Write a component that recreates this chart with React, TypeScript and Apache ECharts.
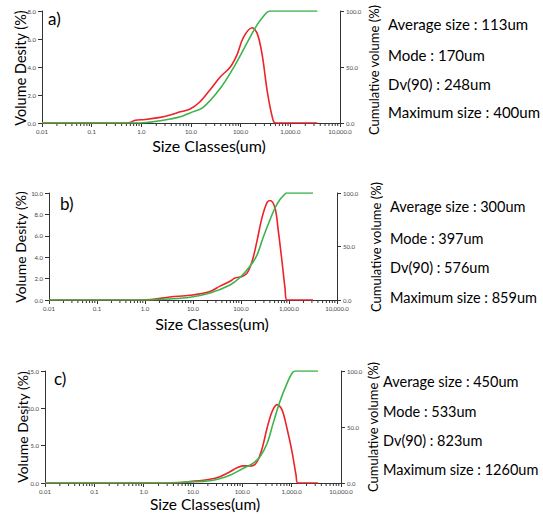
import React, { useEffect, useRef } from 'react';
import * as echarts from 'echarts';

// ---------- data ----------
const xTickValues = [0.01, 0.1, 1, 10, 100, 1000, 10000];
const xTickLabels = ['0.01', '0.1', '1.0', '10.0', '100.0', '1,000.0', '10,000.0'];

// panel a) volume density (%) vs size (um)
const densityA: [number, number][] = [
  [0.01, 0], [0.54, 0], [0.75, 0.2], [1.2, 0.25], [2.4, 0.4], [3.8, 0.57], [6.1, 0.8], [9.6, 1.0],
  [15, 1.5], [24, 2.35], [39, 3.3], [62, 4.0], [85, 4.9], [113, 6.1], [170, 6.8], [215, 6.4],
  [270, 4.9], [345, 2.2], [435, 0.4], [500, 0], [3500, 0],
];
const cumulativeA: [number, number][] = [
  [0.01, 0], [0.95, 0], [2.4, 2], [3.8, 3.5], [6.1, 5.5], [9.6, 9], [17.6, 14], [39, 31], [71, 49],
  [136, 72], [197, 85], [272, 94], [395, 100], [3500, 100],
];

// panel b)
const densityB: [number, number][] = [
  [0.01, 0], [0.8, 0], [1.5, 0.06], [3.3, 0.28], [8.7, 0.44], [22.6, 0.8], [36.5, 1.3], [59, 1.75],
  [75, 2.05], [105, 2.2], [133, 2.5], [170, 3.6], [215, 5.5], [274, 7.7], [348, 9.1], [402, 9.3],
  [511, 8.6], [590, 6.7], [715, 3.6], [826, 1.1], [908, 0], [3160, 0],
];
const cumulativeB: [number, number][] = [
  [0.01, 0], [0.8, 0], [3.3, 1], [8.7, 2.5], [22.6, 6.5], [59, 14], [95, 21], [154, 31.5], [215, 42],
  [287, 58], [402, 75], [511, 86], [649, 94], [826, 99], [870, 100], [3160, 100],
];

// panel c)
const densityC: [number, number][] = [
  [0.01, 0], [4.4, 0], [8.7, 0.18], [22, 0.5], [35, 0.85], [56, 1.5], [78, 2.05], [103, 2.3],
  [157, 2.3], [199, 2.85], [251, 4.6], [316, 7.3], [400, 9.55], [505, 10.5], [637, 9.8], [805, 7.3],
  [1016, 4.2], [1225, 1.07], [1345, 0], [3420, 0],
];
const cumulativeC: [number, number][] = [
  [0.01, 0], [2.5, 0], [8.7, 1], [22, 2], [56, 7], [103, 13], [164, 17.6], [228, 23.5], [316, 35],
  [419, 53], [580, 73], [805, 89], [1016, 98], [1170, 100], [3420, 100],
];

const statsA = ['Average size : 113um', 'Mode : 170um', 'Dv(90) : 248um', 'Maximum size : 400um'];
const statsB = ['Average size : 300um', 'Mode : 397um', 'Dv(90) : 576um', 'Maximum size : 859um'];
const statsC = ['Average size : 450um', 'Mode : 533um', 'Dv(90) : 823um', 'Maximum size : 1260um'];

const densityMax = [8, 10, 15];
const densityInterval = [2, 2, 5];
const cumulativeTicks = [0, 50, 100];

// ---------- layout / style ----------
const RED = '#ec2329';
const GREEN = '#3cb44c';
const AXIS = '#333333';
const FONT = 'Lato, "Open Sans", sans-serif';

const panels = [
  {
    density: densityA, cumulative: cumulativeA, stats: statsA, letter: 'a)',
    grid: { left: 42, top: 11, width: 298, height: 112 },
    letterPos: [48, 18], statsX: 388, statsY: [24, 55, 84, 112], statsFont: 15,
    xTitle: [209, 145], xFont: 16, leftTitle: [20, 68], rightTitle: [374, 70], leftFont: 14.5,
  },
  {
    density: densityB, cumulative: cumulativeB, stats: statsB, letter: 'b)',
    grid: { left: 49, top: 193, width: 288, height: 107 },
    letterPos: [60, 203], statsX: 390, statsY: [206, 238, 267, 297], statsFont: 14.5,
    xTitle: [212, 323], xFont: 16, leftTitle: [20, 247], rightTitle: [376, 247], leftFont: 14,
  },
  {
    density: densityC, cumulative: cumulativeC, stats: statsC, letter: 'c)',
    grid: { left: 45, top: 371, width: 296, height: 112 },
    letterPos: [54, 378], statsX: 383, statsY: [381, 411, 440, 469], statsFont: 14.5,
    xTitle: [205, 504], xFont: 15.5, leftTitle: [22, 427], rightTitle: [373, 427], leftFont: 14,
  },
];

const minorTicks: number[] = [];
for (let d = -2; d < 4; d++) {
  for (let k = 2; k <= 9; k++) minorTicks.push(k * Math.pow(10, d));
}

function xLabel(v: number): string {
  const e = Math.round(Math.log10(v));
  const i = xTickValues.findIndex((t) => Math.round(Math.log10(t)) === e);
  return i >= 0 ? xTickLabels[i] : '';
}

function buildOption() {
  const grid: any[] = [];
  const xAxis: any[] = [];
  const yAxis: any[] = [];
  const series: any[] = [];
  const graphic: any[] = [];

  panels.forEach((p, i) => {
    grid.push({ ...p.grid, containLabel: false });
    xAxis.push({
      type: 'log', logBase: 10, gridIndex: i, min: 0.01, max: 10000,
      axisLine: { show: true, lineStyle: { color: AXIS, width: 1 } },
      axisTick: { show: true, length: 4, lineStyle: { color: AXIS } },
      axisLabel: { fontSize: 6, color: '#444', margin: 5, fontFamily: FONT, formatter: xLabel },
      splitLine: { show: false },
    });
    yAxis.push({
      type: 'value', gridIndex: i, position: 'left', min: 0, max: densityMax[i], interval: densityInterval[i],
      axisLine: { show: true, lineStyle: { color: AXIS, width: 1 } },
      axisTick: { show: true, length: 4, lineStyle: { color: AXIS } },
      axisLabel: { fontSize: 6, color: '#444', margin: 6, fontFamily: FONT, formatter: (v: number) => v.toFixed(1) },
      splitLine: { show: false },
    });
    yAxis.push({
      type: 'value', gridIndex: i, position: 'right', min: cumulativeTicks[0],
      max: cumulativeTicks[cumulativeTicks.length - 1], interval: cumulativeTicks[1] - cumulativeTicks[0],
      axisLine: { show: true, lineStyle: { color: AXIS, width: 1 } },
      axisTick: { show: true, length: 4, lineStyle: { color: AXIS } },
      axisLabel: { fontSize: 6, color: '#444', margin: 6, fontFamily: FONT, formatter: (v: number) => v.toFixed(1) },
      splitLine: { show: false },
    });

    series.push({
      type: 'custom', xAxisIndex: i, yAxisIndex: i * 2, silent: true, clip: false,
      data: minorTicks.map((v) => [v, 0]),
      renderItem: (_params: any, api: any) => {
        const pt = api.coord([api.value(0), 0]);
        return {
          type: 'line',
          shape: { x1: pt[0], y1: pt[1], x2: pt[0], y2: pt[1] + 3 },
          style: { stroke: AXIS, lineWidth: 1 },
        };
      },
    });
    series.push({
      type: 'line', xAxisIndex: i, yAxisIndex: i * 2, data: p.density, showSymbol: false,
      smooth: 0.35, lineStyle: { color: RED, width: 1.6 }, itemStyle: { color: RED },
    });
    series.push({
      type: 'line', xAxisIndex: i, yAxisIndex: i * 2 + 1, data: p.cumulative, showSymbol: false,
      smooth: 0.35, lineStyle: { color: GREEN, width: 1.6 }, itemStyle: { color: GREEN },
    });

    graphic.push({
      type: 'text', x: p.letterPos[0], y: p.letterPos[1],
      style: { text: p.letter, font: `17px ${FONT}`, fill: '#000', textAlign: 'left', textVerticalAlign: 'middle' },
    });
    p.stats.forEach((s, k) => {
      graphic.push({
        type: 'text', x: p.statsX, y: p.statsY[k],
        style: { text: s, font: `${p.statsFont}px ${FONT}`, fill: '#000', textAlign: 'left', textVerticalAlign: 'middle' },
      });
    });
    graphic.push({
      type: 'text', x: p.xTitle[0], y: p.xTitle[1],
      style: { text: 'Size Classes(um)', font: `${p.xFont}px ${FONT}`, fill: '#000', textAlign: 'center', textVerticalAlign: 'middle' },
    });
    graphic.push({
      type: 'text', x: p.leftTitle[0], y: p.leftTitle[1], rotation: Math.PI / 2,
      style: { text: 'Volume Desity (%)', font: `${p.leftFont}px ${FONT}`, fill: '#000', textAlign: 'center', textVerticalAlign: 'middle' },
    });
    graphic.push({
      type: 'text', x: p.rightTitle[0], y: p.rightTitle[1], rotation: Math.PI / 2,
      style: { text: 'Cumulative volume (%)', font: `13px ${FONT}`, fill: '#000', textAlign: 'center', textVerticalAlign: 'middle' },
    });
  });

  return { animation: false, backgroundColor: '#ffffff', grid, xAxis, yAxis, series, graphic };
}

export default function App() {
  const ref = useRef<HTMLDivElement>(null);
  useEffect(() => {
    if (!ref.current) return;
    const chart = echarts.init(ref.current, undefined, { renderer: 'svg' });
    chart.setOption(buildOption());
    return () => chart.dispose();
  }, []);
  return (
    <div
      ref={ref}
      style={{ position: 'fixed', left: 0, top: 0, width: 543, height: 515, background: '#fff' }}
    />
  );
}
